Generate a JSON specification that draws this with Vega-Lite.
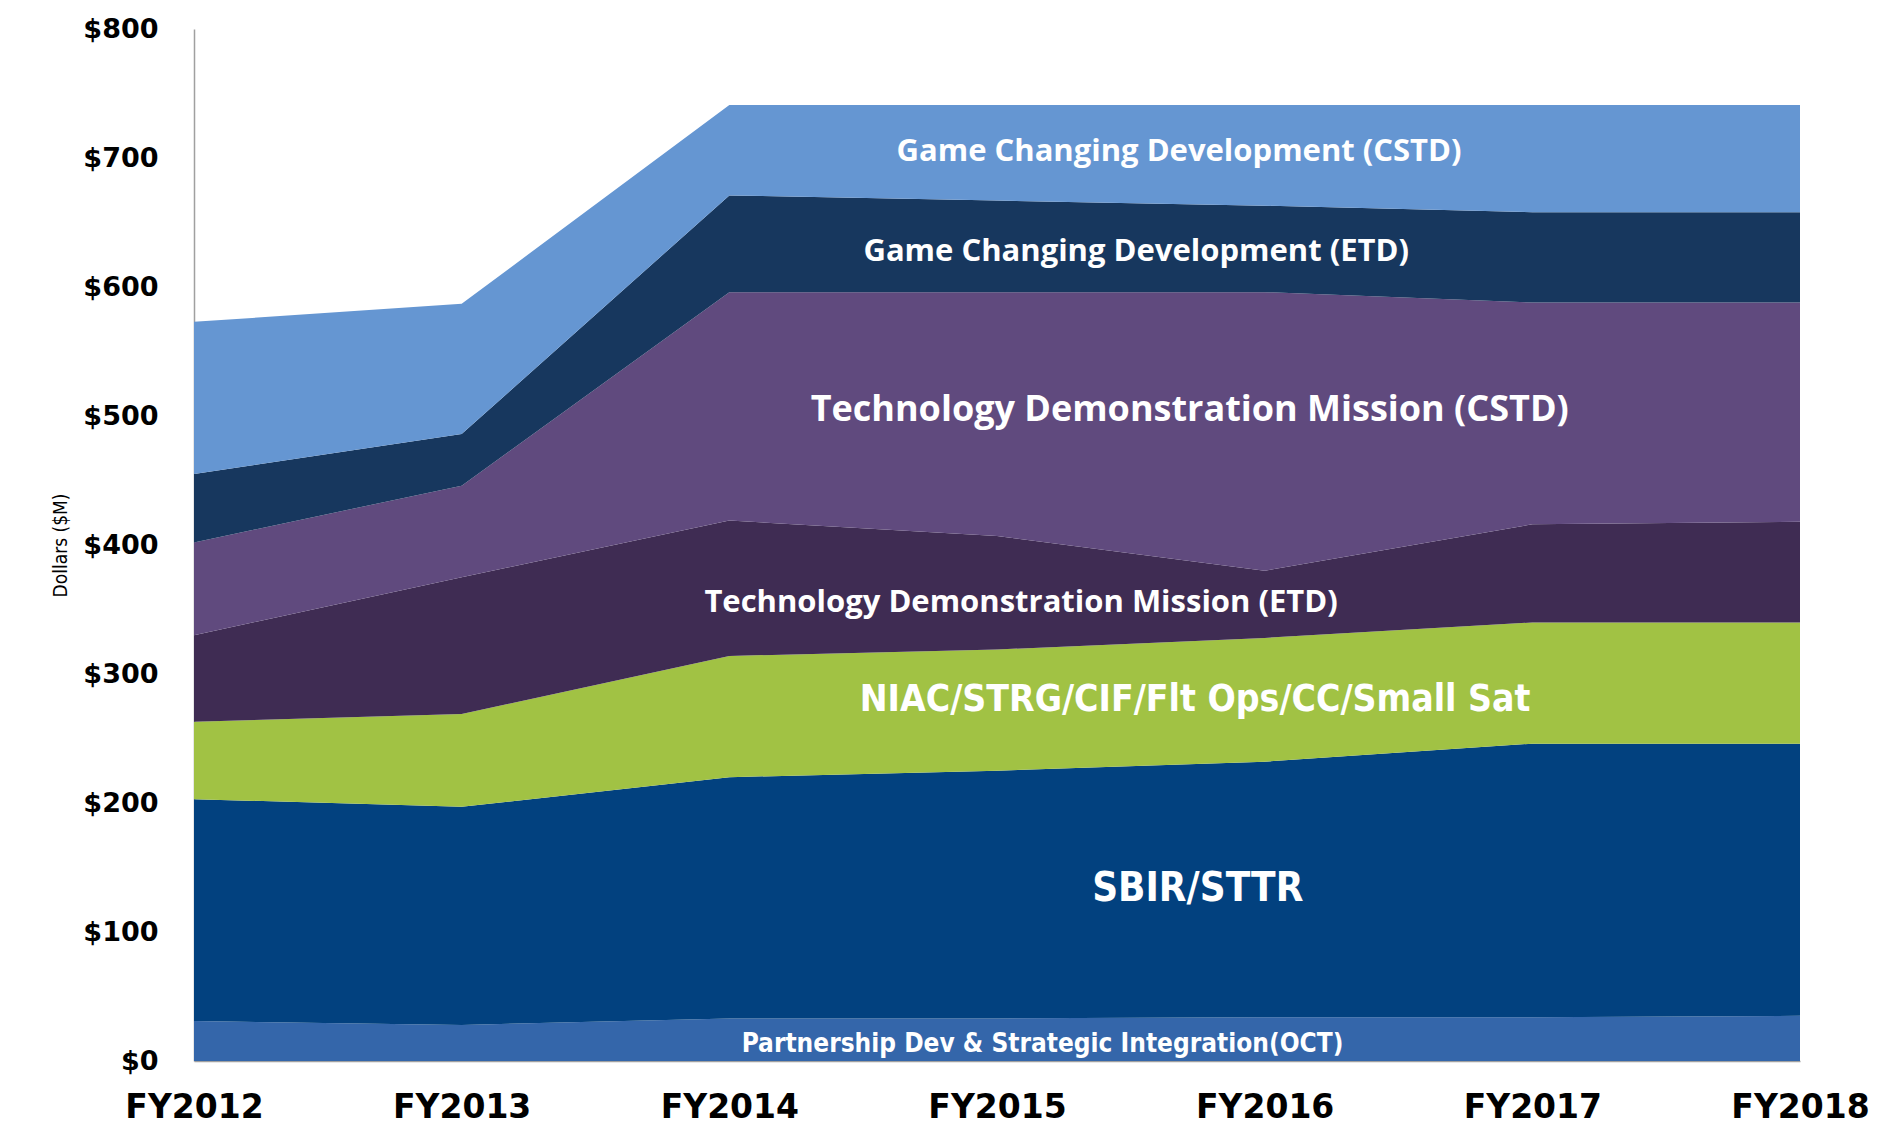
{
  "$schema": "https://vega.github.io/schema/vega-lite/v6.json",
  "width": 1606,
  "height": 1032,
  "autosize": {"type": "none"},
  "padding": {"left": 194, "top": 29, "right": 104, "bottom": 73},
  "background": "white",
  "config": {"view": {"stroke": null}, "font": "DejaVu Sans"},
  "layer": [
    {
      "data": {"values": [
        {"year": 2012, "series": "Partnership Dev & Strategic Integration(OCT)", "rank": 1, "value": 31},
        {"year": 2013, "series": "Partnership Dev & Strategic Integration(OCT)", "rank": 1, "value": 28},
        {"year": 2014, "series": "Partnership Dev & Strategic Integration(OCT)", "rank": 1, "value": 33},
        {"year": 2015, "series": "Partnership Dev & Strategic Integration(OCT)", "rank": 1, "value": 33},
        {"year": 2016, "series": "Partnership Dev & Strategic Integration(OCT)", "rank": 1, "value": 34},
        {"year": 2017, "series": "Partnership Dev & Strategic Integration(OCT)", "rank": 1, "value": 34},
        {"year": 2018, "series": "Partnership Dev & Strategic Integration(OCT)", "rank": 1, "value": 35},
        {"year": 2012, "series": "SBIR/STTR", "rank": 2, "value": 172},
        {"year": 2013, "series": "SBIR/STTR", "rank": 2, "value": 169},
        {"year": 2014, "series": "SBIR/STTR", "rank": 2, "value": 187},
        {"year": 2015, "series": "SBIR/STTR", "rank": 2, "value": 192},
        {"year": 2016, "series": "SBIR/STTR", "rank": 2, "value": 198},
        {"year": 2017, "series": "SBIR/STTR", "rank": 2, "value": 212},
        {"year": 2018, "series": "SBIR/STTR", "rank": 2, "value": 211},
        {"year": 2012, "series": "NIAC/STRG/CIF/Flt Ops/CC/Small Sat", "rank": 3, "value": 60},
        {"year": 2013, "series": "NIAC/STRG/CIF/Flt Ops/CC/Small Sat", "rank": 3, "value": 72},
        {"year": 2014, "series": "NIAC/STRG/CIF/Flt Ops/CC/Small Sat", "rank": 3, "value": 94},
        {"year": 2015, "series": "NIAC/STRG/CIF/Flt Ops/CC/Small Sat", "rank": 3, "value": 94},
        {"year": 2016, "series": "NIAC/STRG/CIF/Flt Ops/CC/Small Sat", "rank": 3, "value": 96},
        {"year": 2017, "series": "NIAC/STRG/CIF/Flt Ops/CC/Small Sat", "rank": 3, "value": 94},
        {"year": 2018, "series": "NIAC/STRG/CIF/Flt Ops/CC/Small Sat", "rank": 3, "value": 94},
        {"year": 2012, "series": "Technology Demonstration Mission (ETD)", "rank": 4, "value": 67},
        {"year": 2013, "series": "Technology Demonstration Mission (ETD)", "rank": 4, "value": 106},
        {"year": 2014, "series": "Technology Demonstration Mission (ETD)", "rank": 4, "value": 105},
        {"year": 2015, "series": "Technology Demonstration Mission (ETD)", "rank": 4, "value": 88},
        {"year": 2016, "series": "Technology Demonstration Mission (ETD)", "rank": 4, "value": 52},
        {"year": 2017, "series": "Technology Demonstration Mission (ETD)", "rank": 4, "value": 76},
        {"year": 2018, "series": "Technology Demonstration Mission (ETD)", "rank": 4, "value": 78},
        {"year": 2012, "series": "Technology Demonstration Mission (CSTD)", "rank": 5, "value": 72},
        {"year": 2013, "series": "Technology Demonstration Mission (CSTD)", "rank": 5, "value": 71},
        {"year": 2014, "series": "Technology Demonstration Mission (CSTD)", "rank": 5, "value": 177},
        {"year": 2015, "series": "Technology Demonstration Mission (CSTD)", "rank": 5, "value": 189},
        {"year": 2016, "series": "Technology Demonstration Mission (CSTD)", "rank": 5, "value": 216},
        {"year": 2017, "series": "Technology Demonstration Mission (CSTD)", "rank": 5, "value": 172},
        {"year": 2018, "series": "Technology Demonstration Mission (CSTD)", "rank": 5, "value": 170},
        {"year": 2012, "series": "Game Changing Development (ETD)", "rank": 6, "value": 53},
        {"year": 2013, "series": "Game Changing Development (ETD)", "rank": 6, "value": 40},
        {"year": 2014, "series": "Game Changing Development (ETD)", "rank": 6, "value": 75},
        {"year": 2015, "series": "Game Changing Development (ETD)", "rank": 6, "value": 71},
        {"year": 2016, "series": "Game Changing Development (ETD)", "rank": 6, "value": 67},
        {"year": 2017, "series": "Game Changing Development (ETD)", "rank": 6, "value": 70},
        {"year": 2018, "series": "Game Changing Development (ETD)", "rank": 6, "value": 70},
        {"year": 2012, "series": "Game Changing Development (CSTD)", "rank": 7, "value": 118},
        {"year": 2013, "series": "Game Changing Development (CSTD)", "rank": 7, "value": 101},
        {"year": 2014, "series": "Game Changing Development (CSTD)", "rank": 7, "value": 70},
        {"year": 2015, "series": "Game Changing Development (CSTD)", "rank": 7, "value": 74},
        {"year": 2016, "series": "Game Changing Development (CSTD)", "rank": 7, "value": 78},
        {"year": 2017, "series": "Game Changing Development (CSTD)", "rank": 7, "value": 83},
        {"year": 2018, "series": "Game Changing Development (CSTD)", "rank": 7, "value": 83}
      ]},
      "mark": {"type": "area", "interpolate": "linear"},
      "encoding": {
        "x": {
          "field": "year", "type": "quantitative",
          "scale": {"domain": [2012, 2018], "nice": false, "zero": false},
          "axis": {
            "title": null, "values": [2012, 2013, 2014, 2015, 2016, 2017, 2018],
            "labelExpr": "'FY' + datum.value", "grid": false, "ticks": false,
            "domain": true, "domainColor": "#a0a0a0", "domainWidth": 1.5,
            "labelFont": "DejaVu Sans", "labelFontWeight": "bold", "labelFontSize": 33,
            "labelColor": "black", "labelPadding": 46, "labelBaseline": "middle", "labelFlush": false
          }
        },
        "y": {
          "field": "value", "type": "quantitative", "stack": "zero",
          "scale": {"domain": [0, 800], "nice": false},
          "axis": {
            "title": "Dollars ($M)", "values": [0, 100, 200, 300, 400, 500, 600, 700, 800],
            "labelExpr": "'$' + datum.value", "grid": false, "ticks": false,
            "domain": true, "domainColor": "#a0a0a0", "domainWidth": 1.5,
            "labelFont": "DejaVu Sans", "labelFontWeight": "bold", "labelFontSize": 27,
            "labelColor": "black", "labelPadding": 36, "labelFlush": false,
            "titleFont": "DejaVu Sans Condensed", "titleFontSize": 19,
            "titleFontWeight": "normal", "titleColor": "black", "titlePadding": 12
          }
        },
        "color": {
          "field": "series", "type": "nominal", "legend": null,
          "scale": {
            "domain": ["Partnership Dev & Strategic Integration(OCT)", "SBIR/STTR", "NIAC/STRG/CIF/Flt Ops/CC/Small Sat", "Technology Demonstration Mission (ETD)", "Technology Demonstration Mission (CSTD)", "Game Changing Development (ETD)", "Game Changing Development (CSTD)"],
            "range": ["#3466aa", "#02417f", "#a1c244", "#3f2c53", "#604a7e", "#17375e", "#6596d2"]
          }
        },
        "order": {"field": "rank", "type": "quantitative"}
      }
    },
    {
      "data": {"values": [{"label": "Game Changing Development (CSTD)", "year": 2015.68, "value": 705}]},
      "mark": {"type": "text", "font": "Open Sans", "fontWeight": "bold", "fontSize": 31, "color": "white", "align": "center", "baseline": "middle"},
      "encoding": {"x": {"field": "year", "type": "quantitative", "title": null}, "y": {"field": "value", "type": "quantitative", "title": "Dollars ($M)"}, "text": {"field": "label"}}
    },
    {
      "data": {"values": [{"label": "Game Changing Development (ETD)", "year": 2015.52, "value": 627}]},
      "mark": {"type": "text", "font": "Open Sans", "fontWeight": "bold", "fontSize": 31, "color": "white", "align": "center", "baseline": "middle"},
      "encoding": {"x": {"field": "year", "type": "quantitative", "title": null}, "y": {"field": "value", "type": "quantitative", "title": "Dollars ($M)"}, "text": {"field": "label"}}
    },
    {
      "data": {"values": [{"label": "Technology Demonstration Mission (CSTD)", "year": 2015.72, "value": 505}]},
      "mark": {"type": "text", "font": "Open Sans", "fontWeight": "bold", "fontSize": 36, "color": "white", "align": "center", "baseline": "middle"},
      "encoding": {"x": {"field": "year", "type": "quantitative", "title": null}, "y": {"field": "value", "type": "quantitative", "title": "Dollars ($M)"}, "text": {"field": "label"}}
    },
    {
      "data": {"values": [{"label": "Technology Demonstration Mission (ETD)", "year": 2015.09, "value": 355}]},
      "mark": {"type": "text", "font": "Open Sans", "fontWeight": "bold", "fontSize": 31, "color": "white", "align": "center", "baseline": "middle"},
      "encoding": {"x": {"field": "year", "type": "quantitative", "title": null}, "y": {"field": "value", "type": "quantitative", "title": "Dollars ($M)"}, "text": {"field": "label"}}
    },
    {
      "data": {"values": [{"label": "NIAC/STRG/CIF/Flt Ops/CC/Small Sat", "year": 2015.74, "value": 280}]},
      "mark": {"type": "text", "font": "DejaVu Sans Condensed", "fontWeight": "bold", "fontSize": 37, "color": "white", "align": "center", "baseline": "middle"},
      "encoding": {"x": {"field": "year", "type": "quantitative", "title": null}, "y": {"field": "value", "type": "quantitative", "title": "Dollars ($M)"}, "text": {"field": "label"}}
    },
    {
      "data": {"values": [{"label": "SBIR/STTR", "year": 2015.75, "value": 133}]},
      "mark": {"type": "text", "font": "DejaVu Sans Condensed", "fontWeight": "bold", "fontSize": 40, "color": "white", "align": "center", "baseline": "middle"},
      "encoding": {"x": {"field": "year", "type": "quantitative", "title": null}, "y": {"field": "value", "type": "quantitative", "title": "Dollars ($M)"}, "text": {"field": "label"}}
    },
    {
      "data": {"values": [{"label": "Partnership Dev & Strategic Integration(OCT)", "year": 2015.17, "value": 13}]},
      "mark": {"type": "text", "font": "DejaVu Sans Condensed", "fontWeight": "bold", "fontSize": 26, "color": "white", "align": "center", "baseline": "middle"},
      "encoding": {"x": {"field": "year", "type": "quantitative", "title": null}, "y": {"field": "value", "type": "quantitative", "title": "Dollars ($M)"}, "text": {"field": "label"}}
    }
  ]
}
